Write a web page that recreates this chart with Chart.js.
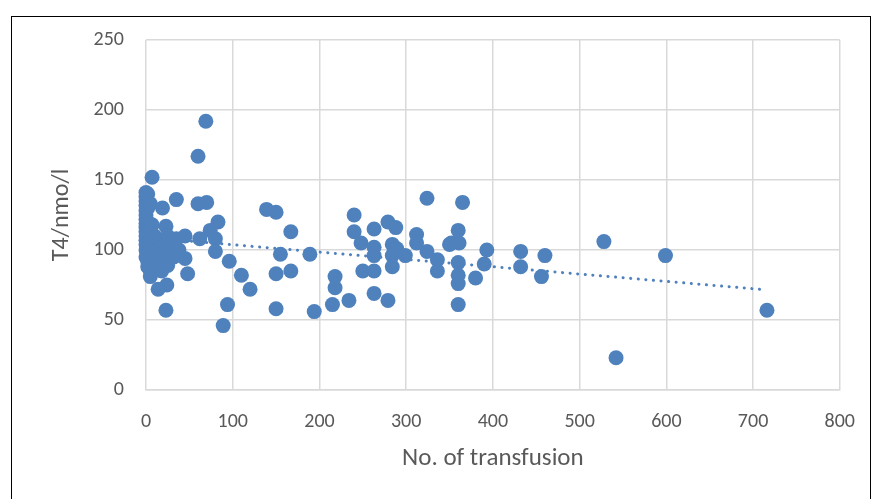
<!DOCTYPE html>
<html>
<head>
<meta charset="utf-8">
<script src="https://cdn.jsdelivr.net/npm/chart.js@4"></script>
<style>
  html, body { margin:0; padding:0; background:#fff; }
  #wrap { position:absolute; left:0; top:0; width:875px; height:499px; }
  #frame { position:absolute; left:11px; top:16px; width:860px; height:500px; border:1.5px solid #000; box-sizing:border-box; }
</style>
</head>
<body>
<div id="wrap">
  <div id="frame"></div>
  <canvas id="chart" width="875" height="499"></canvas>
</div>
<script>
// transfusions (x) and T4 (y)
const transfusions = [
  0,0,0,0,0,0,0,0,0,0,0,0,0,0,0,
  2,2,2,2,2,2,2,2,
  5,5,5,5,5,5,
  7,7,7,5,10,10,
  19,23,24,14,23,35,25,30,20,28,15,22,32,25,35,38,18,12,16,
  45,45,48,60,69,60,70,83,74,62,80,80,96,110,120,94,89,
  139,150,167,155,189,150,167,150,194,215,218,218,234,240,240,248,250,
  263,263,263,263,263,279,288,284,289,284,284,279,299,312,312,324,324,
  336,336,350,365,360,352,361,360,360,360,360,380,393,390,432,432,460,456,
  528,599,716,542
];
const t4 = [
  141,138,135,132,128,125,122,119,116,113,110,107,104,100,95,
  140,130,120,112,105,97,92,88,
  133,115,108,100,90,85,
  152,118,103,81,110,98,
  130,117,75,72,57,136,110,105,103,100,97,93,95,89,108,100,85,92,107,
  110,94,83,167,192,133,134,120,114,108,108,99,92,82,72,61,46,
  129,127,113,97,97,83,85,58,56,61,81,73,64,125,113,105,85,
  85,115,102,96,69,120,116,104,101,96,88,64,96,111,105,137,99,
  93,85,104,134,114,105,105,91,82,76,61,80,100,90,99,88,96,81,
  106,96,57,23
];
// dotted linear trend line end points
const trendX = [0, 716];
const trendY = [109, 71.5];

const xTicks = [0, 100, 200, 300, 400, 500, 600, 700, 800];
const yTicks = [0, 50, 100, 150, 200, 250];

const blue = "#4F81BD";
const font = "Carlito, Lato, 'Liberation Sans', sans-serif";

new Chart(document.getElementById("chart"), {
  type: "scatter",
  data: {
    datasets: [
      {
        data: transfusions.map((x, i) => ({ x: x, y: t4[i] })),
        backgroundColor: blue,
        borderColor: blue,
        pointRadius: 7.5,
        pointBorderWidth: 0,
        clip: false,
        order: 2
      },
      {
        type: "line",
        data: trendX.map((x, i) => ({ x: x, y: trendY[i] })),
        borderColor: blue,
        borderWidth: 3,
        borderDash: [0.1, 7.5],
        borderCapStyle: "round",
        pointRadius: 0,
        fill: false,
        order: 1
      }
    ]
  },
  options: {
    responsive: false,
    animation: false,
    layout: { padding: { left: 44, right: 35, top: 40, bottom: 21 } },
    plugins: { legend: { display: false }, tooltip: { enabled: false } },
    scales: {
      x: {
        type: "linear",
        min: 0, max: 800,
        afterBuildTicks: s => { s.ticks = xTicks.map(v => ({ value: v })); },
        grid: { color: "#d9d9d9", lineWidth: 1.5, drawTicks: false },
        border: { color: "#d9d9d9", width: 1.5 },
        ticks: { color: "#595959", font: { family: font, size: 20 }, padding: 20 },
        title: { display: true, text: "No. of transfusion", color: "#595959",
                 font: { family: font, size: 25 }, padding: { top: 4 } },
        afterFit: s => { s.height = 499 - 390 - 21; }
      },
      y: {
        min: 0, max: 250,
        afterBuildTicks: s => { s.ticks = yTicks.map(v => ({ value: v })); },
        grid: { color: "#d9d9d9", lineWidth: 1.5, drawTicks: false },
        border: { display: false },
        ticks: { color: "#595959", font: { family: font, size: 20 }, padding: 22 },
        title: { display: true, text: "T4/nmo/l", color: "#595959",
                 font: { family: font, size: 24 } },
        afterFit: s => { s.width = 146 - 44; }
      }
    }
  }
});
</script>
</body>
</html>
